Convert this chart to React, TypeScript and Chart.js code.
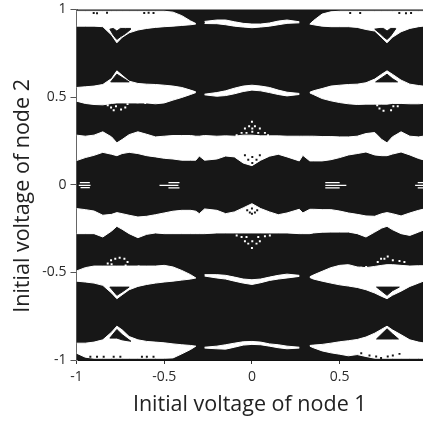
import React, { useEffect, useRef } from "react";
import { Chart, registerables } from "chart.js";

Chart.register(...registerables);

const xTickValues = [-1, -0.5, 0, 0.5];
const yTickValues = [-1, -0.5, 0, 0.5, 1];
const xTitle = "Initial voltage of node 1";
const yTitle = "Initial voltage of node 2    ";

const xLeft = [-1, -0.95, -0.9, -0.85, -0.8, -0.77, -0.74, -0.7, -0.65, -0.6, -0.55, -0.5, -0.45, -0.4, -0.35, -0.32];
const xMid = [-0.27, -0.2, -0.15, -0.1, -0.05, 0, 0.05, 0.1, 0.15, 0.2, 0.27];
const xRight = [0.33, 0.35, 0.4, 0.45, 0.5, 0.55, 0.6, 0.65, 0.7, 0.74, 0.77, 0.8, 0.85, 0.9, 0.95, 0.975];
const xFull = [...xLeft, -0.3, ...xMid, 0.29, ...xRight];

const aLeftTop = [0.99, 0.99, 0.99, 0.99, 0.99, 0.99, 0.99, 0.99, 0.99, 0.99, 0.99, 0.99, 0.985, 0.965, 0.935, 0.92];
const aLeftBot = [0.905, 0.905, 0.905, 0.902, 0.854, 0.81, 0.841, 0.867, 0.883, 0.892, 0.898, 0.902, 0.905, 0.909, 0.913, 0.917];
const aMidTop = [0.932, 0.94, 0.94, 0.93, 0.921, 0.917, 0.917, 0.923, 0.934, 0.94, 0.93];
const aMidBot = [0.92, 0.919, 0.913, 0.905, 0.9, 0.896, 0.9, 0.905, 0.913, 0.921, 0.924];
const aRightTop = [0.917, 0.936, 0.974, 0.987, 0.99, 0.99, 0.99, 0.99, 0.99, 0.99, 0.99, 0.99, 0.99, 0.99, 0.99, 0.99];
const aRightBot = [0.917, 0.913, 0.905, 0.902, 0.902, 0.902, 0.898, 0.886, 0.877, 0.839, 0.81, 0.841, 0.873, 0.892, 0.902, 0.905];

const bLeftTop = [0.555, 0.559, 0.563, 0.572, 0.606, 0.65, 0.625, 0.591, 0.578, 0.574, 0.572, 0.568, 0.563, 0.555, 0.54, 0.53];
const bLeftBot = [0.477, 0.464, 0.458, 0.456, 0.464, 0.467, 0.467, 0.467, 0.467, 0.467, 0.462, 0.467, 0.483, 0.498, 0.515, 0.526];
const bMidTop = [0.517, 0.526, 0.536, 0.551, 0.563, 0.568, 0.563, 0.555, 0.54, 0.528, 0.521];
const bMidBot = [0.513, 0.505, 0.509, 0.519, 0.532, 0.54, 0.536, 0.526, 0.515, 0.507, 0.515];
const bRightTop = [0.528, 0.536, 0.549, 0.563, 0.568, 0.572, 0.574, 0.582, 0.603, 0.631, 0.65, 0.631, 0.597, 0.574, 0.566, 0.563];
const bRightBot = [0.524, 0.515, 0.492, 0.479, 0.469, 0.462, 0.458, 0.46, 0.46, 0.46, 0.46, 0.464, 0.464, 0.462, 0.462, 0.464];

const cTop = [0.283, 0.277, 0.283, 0.302, 0.273, 0.239, 0.258, 0.286, 0.302, 0.288, 0.273, 0.277, 0.281, 0.281, 0.281, 0.277, 0.277, 0.281, 0.277, 0.279, 0.277, 0.283, 0.283, 0.279, 0.279, 0.279, 0.277, 0.277, 0.277, 0.277, 0.277, 0.275, 0.275, 0.273, 0.273, 0.277, 0.292, 0.298, 0.258, 0.239, 0.273, 0.302, 0.277, 0.273, 0.277];
const cBot = [0.138, 0.155, 0.168, 0.185, 0.174, 0.166, 0.178, 0.185, 0.178, 0.166, 0.159, 0.151, 0.147, 0.14, 0.14, 0.14, 0.164, 0.14, 0.147, 0.164, 0.159, 0.124, 0.109, 0.14, 0.163, 0.174, 0.159, 0.136, 0.168, 0.136, 0.136, 0.136, 0.143, 0.155, 0.17, 0.178, 0.187, 0.17, 0.166, 0.166, 0.175, 0.187, 0.17, 0.15, 0.143];

const dTop = [-0.136, -0.142, -0.15, -0.174, -0.169, -0.159, -0.165, -0.174, -0.184, -0.18, -0.171, -0.161, -0.151, -0.146, -0.146, -0.151, -0.165, -0.138, -0.146, -0.165, -0.155, -0.132, -0.108, -0.136, -0.155, -0.171, -0.161, -0.14, -0.161, -0.14, -0.14, -0.142, -0.142, -0.15, -0.161, -0.169, -0.178, -0.18, -0.165, -0.159, -0.165, -0.178, -0.161, -0.146, -0.14];
const dBot = [-0.279, -0.279, -0.279, -0.298, -0.264, -0.237, -0.254, -0.279, -0.302, -0.283, -0.275, -0.279, -0.279, -0.279, -0.279, -0.279, -0.279, -0.279, -0.275, -0.275, -0.275, -0.275, -0.275, -0.275, -0.275, -0.275, -0.275, -0.279, -0.279, -0.279, -0.275, -0.271, -0.27, -0.27, -0.27, -0.279, -0.298, -0.27, -0.247, -0.237, -0.256, -0.279, -0.289, -0.27, -0.26];

const eLeftTop = [-0.492, -0.473, -0.464, -0.464, -0.464, -0.464, -0.464, -0.464, -0.464, -0.464, -0.464, -0.46, -0.469, -0.489, -0.513, -0.532];
const eLeftBot = [-0.55, -0.555, -0.561, -0.574, -0.618, -0.65, -0.628, -0.599, -0.58, -0.569, -0.561, -0.555, -0.55, -0.544, -0.538, -0.532];
const eMidTop = [-0.513, -0.513, -0.517, -0.527, -0.538, -0.542, -0.538, -0.527, -0.517, -0.51, -0.517];
const eMidBot = [-0.521, -0.532, -0.538, -0.55, -0.561, -0.569, -0.559, -0.546, -0.538, -0.532, -0.523];
const eRightTop = [-0.525, -0.515, -0.494, -0.473, -0.46, -0.456, -0.469, -0.473, -0.466, -0.46, -0.456, -0.456, -0.46, -0.464, -0.462, -0.462];
const eRightBot = [-0.529, -0.538, -0.55, -0.561, -0.571, -0.578, -0.586, -0.599, -0.618, -0.637, -0.65, -0.631, -0.607, -0.58, -0.561, -0.551];

const fLeftTop = [-0.904, -0.904, -0.898, -0.885, -0.841, -0.807, -0.828, -0.866, -0.885, -0.894, -0.898, -0.902, -0.908, -0.913, -0.917, -0.921];
const fLeftBot = [-0.961, -0.984, -0.99, -0.99, -0.99, -0.99, -0.99, -0.99, -0.99, -0.99, -0.99, -0.99, -0.988, -0.965, -0.94, -0.921];
const fMidTop = [-0.927, -0.921, -0.913, -0.904, -0.896, -0.894, -0.898, -0.908, -0.913, -0.921, -0.927];
const fMidBot = [-0.932, -0.936, -0.938, -0.927, -0.915, -0.911, -0.913, -0.921, -0.93, -0.936, -0.932];
const fRightTop = [-0.917, -0.915, -0.911, -0.904, -0.896, -0.89, -0.883, -0.869, -0.847, -0.824, -0.807, -0.828, -0.856, -0.885, -0.898, -0.902];
const fRightBot = [-0.921, -0.93, -0.948, -0.959, -0.967, -0.976, -0.969, -0.98, -0.99, -0.99, -0.99, -0.99, -0.99, -0.99, -0.99, -0.99];

// Black notches inside the white bands
const heartLeftX = [-0.81, -0.79, -0.77, -0.75, -0.72, -0.69];
const heartLeftTop = [0.888, 0.892, 0.877, 0.892, 0.892, 0.892];
const heartLeftBot = [0.888, 0.854, 0.829, 0.844, 0.863, 0.888];
const heartRightX = [0.7, 0.73, 0.75, 0.77, 0.79, 0.82];
const heartRightTop = [0.888, 0.892, 0.892, 0.877, 0.892, 0.892];
const heartRightBot = [0.888, 0.863, 0.844, 0.829, 0.848, 0.89];
const triBLeftX = [-0.805, -0.77, -0.74, -0.7];
const triBLeftTop = [0.587, 0.631, 0.612, 0.587];
const triBLeftBot = [0.587, 0.587, 0.587, 0.587];
const triBRightX = [0.705, 0.77, 0.8, 0.83];
const triBRightTop = [0.587, 0.631, 0.606, 0.587];
const triBRightBot = [0.587, 0.587, 0.587, 0.587];
const trapLeftX = [-0.81, -0.77, -0.74, -0.7];
const trapLeftTop = [-0.584, -0.584, -0.584, -0.584];
const trapLeftBot = [-0.584, -0.631, -0.612, -0.584];
const trapRightX = [0.71, 0.77, 0.8, 0.84];
const trapRightTop = [-0.584, -0.584, -0.584, -0.584];
const trapRightBot = [-0.584, -0.631, -0.605, -0.584];
const triFLeftX = [-0.81, -0.77, -0.74, -0.69];
const triFLeftTop = [-0.875, -0.826, -0.855, -0.893];
const triFLeftBot = [-0.875, -0.875, -0.885, -0.893];
const triFRightX = [0.71, 0.77, 0.8, 0.835];
const triFRightTop = [-0.88, -0.822, -0.85, -0.88];
const triFRightBot = [-0.88, -0.88, -0.88, -0.88];

// White speckles in the black field
const whiteDotX = [-0.822, -0.803, -0.788, -0.775, -0.746, -0.722, -0.709, -0.652, -0.627, -0.608, 0.617, 0.636, 0.655, 0.714, 0.727, 0.75, 0.793, 0.806, 0.831, 0, -0.016, 0.017, -0.04, 0.045, 0.002, -0.059, -0.031, 0.036, 0.074, -0.087, 0.092, 0.002, 0, -0.021, 0.026, -0.04, 0.002, 0.045, -0.087, -0.059, -0.031, 0.036, 0.074, 0.102, -0.822, -0.803, -0.779, -0.754, -0.727, -0.709, -0.72, -0.646, -0.627, -0.608, -0.8, 0.623, 0.651, 0.717, 0.736, 0.774, 0.803, 0.841, 0.869, 0.755];
const whiteDotY = [0.454, 0.441, 0.425, 0.448, 0.429, 0.441, 0.46, 0.471, 0.477, 0.467, 0.477, 0.473, 0.467, 0.454, 0.435, 0.422, 0.425, 0.448, 0.448, 0.359, 0.334, 0.334, 0.321, 0.321, 0.321, 0.296, 0.296, 0.296, 0.296, 0.283, 0.283, 0.302, -0.361, -0.336, -0.336, -0.323, -0.323, -0.323, -0.289, -0.298, -0.298, -0.298, -0.294, -0.289, -0.45, -0.431, -0.422, -0.416, -0.422, -0.441, -0.46, -0.466, -0.473, -0.469, -0.454, -0.473, -0.469, -0.441, -0.422, -0.409, -0.431, -0.435, -0.441, -0.422];

// Black speckles in the white bands
const blackDotX = [-0.902, -0.883, -0.826, -0.614, -0.589, -0.561, 0.56, 0.617, 0.84, 0.878, 0.907, -0.921, -0.883, -0.845, -0.788, -0.75, -0.627, -0.599, -0.561, 0.623, 0.67, 0.708, 0.736, 0.774, 0.803, 0.841, -0.027, -0.012, 0, 0.017, 0.03, 0, -0.04, -0.021, 0.002, 0.026, 0.045, 0.002];
const blackDotY = [0.98, 0.978, 0.982, 0.98, 0.982, 0.98, 0.98, 0.98, 0.98, 0.978, 0.98, -0.982, -0.982, -0.982, -0.982, -0.982, -0.982, -0.982, -0.982, -0.961, -0.974, -0.98, -0.988, -0.98, -0.974, -0.965, -0.146, -0.159, -0.136, -0.159, -0.146, -0.165, 0.168, 0.143, 0.124, 0.143, 0.168, 0.159];

// Short white dashes along the y = 0 line
const dashStart = [-0.981, -0.987, -0.977, -0.476, -0.527, -0.476, 0.418, 0.418, 0.418, 0.945, 0.93, 0.945];
const dashEnd = [-0.924, -0.92, -0.924, -0.413, -0.419, -0.413, 0.5, 0.538, 0.5, 0.975, 0.975, 0.975];
const dashY = [0.012, -0.003, -0.016, 0.012, -0.003, -0.018, 0.012, -0.003, -0.018, 0.012, -0.003, -0.018];

const FIELD = "#171717";
const INK = "#2b2b2b";

const zip = (xs: number[], ys: number[]) => xs.map((x, i) => ({ x, y: ys[i] }));

function region(xs: number[], top: number[], bot: number[], color: string, order: number) {
  const common = { showLine: true, pointRadius: 0, tension: 0, order, borderColor: color, borderWidth: 1 };
  return [
    { ...common, data: zip(xs, top), fill: "+1", backgroundColor: color },
    { ...common, data: zip(xs, bot), fill: false },
  ];
}

const fieldBackground = {
  id: "fieldBackground",
  beforeDatasetsDraw(chart: any) {
    const { ctx, chartArea: a } = chart;
    ctx.save();
    ctx.fillStyle = FIELD;
    ctx.fillRect(a.left, a.top, a.right - a.left, a.bottom - a.top);
    ctx.restore();
  },
};

export default function App() {
  const ref = useRef<HTMLCanvasElement>(null);
  useEffect(() => {
    const datasets: any[] = [
      ...region(xLeft, aLeftTop, aLeftBot, "#ffffff", 3),
      ...region(xMid, aMidTop, aMidBot, "#ffffff", 3),
      ...region(xRight, aRightTop, aRightBot, "#ffffff", 3),
      ...region(xLeft, bLeftTop, bLeftBot, "#ffffff", 3),
      ...region(xMid, bMidTop, bMidBot, "#ffffff", 3),
      ...region(xRight, bRightTop, bRightBot, "#ffffff", 3),
      ...region(xFull, cTop, cBot, "#ffffff", 3),
      ...region(xFull, dTop, dBot, "#ffffff", 3),
      ...region(xLeft, eLeftTop, eLeftBot, "#ffffff", 3),
      ...region(xMid, eMidTop, eMidBot, "#ffffff", 3),
      ...region(xRight, eRightTop, eRightBot, "#ffffff", 3),
      ...region(xLeft, fLeftTop, fLeftBot, "#ffffff", 3),
      ...region(xMid, fMidTop, fMidBot, "#ffffff", 3),
      ...region(xRight, fRightTop, fRightBot, "#ffffff", 3),
      ...region(heartLeftX, heartLeftTop, heartLeftBot, FIELD, 2),
      ...region(heartRightX, heartRightTop, heartRightBot, FIELD, 2),
      ...region(triBLeftX, triBLeftTop, triBLeftBot, FIELD, 2),
      ...region(triBRightX, triBRightTop, triBRightBot, FIELD, 2),
      ...region(trapLeftX, trapLeftTop, trapLeftBot, FIELD, 2),
      ...region(trapRightX, trapRightTop, trapRightBot, FIELD, 2),
      ...region(triFLeftX, triFLeftTop, triFLeftBot, FIELD, 2),
      ...region(triFRightX, triFRightTop, triFRightBot, FIELD, 2),
      {
        data: zip(whiteDotX, whiteDotY),
        pointStyle: "rect",
        pointRadius: 1.4,
        pointBorderWidth: 0,
        pointBackgroundColor: "#ffffff",
        showLine: false,
        order: 1,
      },
      {
        data: zip(blackDotX, blackDotY),
        pointStyle: "rect",
        pointRadius: 1.4,
        pointBorderWidth: 0,
        pointBackgroundColor: FIELD,
        showLine: false,
        order: 1,
      },
      ...dashY.map((y, i) => ({
        data: [
          { x: dashStart[i], y },
          { x: dashEnd[i], y },
        ],
        showLine: true,
        pointRadius: 0,
        borderColor: "#ffffff",
        borderWidth: 1.2,
        order: 1,
      })),
    ];

    const tickFont = { family: "'Open Sans'", size: 14 };
    const titleFont = { family: "'Open Sans'", size: 21.5 };
    const plainLabel = (v: any) => String(v);
    const noMargins = (s: any) => {
      s.paddingLeft = 0;
      s.paddingRight = 0;
      s.paddingTop = 0;
      s.paddingBottom = 0;
    };

    const chart = new Chart(ref.current as HTMLCanvasElement, {
      type: "scatter",
      data: { datasets },
      plugins: [fieldBackground],
      options: {
        responsive: false,
        animation: false,
        layout: { autoPadding: false, padding: { top: 9.5, right: 0, left: 0, bottom: 0 } },
        plugins: { legend: { display: false }, tooltip: { enabled: false } },
        scales: {
          x: {
            type: "linear",
            min: -1,
            max: 0.975,
            afterBuildTicks: (s: any) => {
              s.ticks = xTickValues.map((value) => ({ value }));
            },
            afterFit: (s: any) => {
              s.height = 61;
              noMargins(s);
            },
            grid: { drawOnChartArea: false, drawTicks: true, tickLength: 4, color: "#333333" },
            border: { color: "#111111", width: 1 },
            ticks: { color: INK, font: tickFont, padding: 5, maxRotation: 0, autoSkip: false, callback: plainLabel },
            title: {
              display: true,
              text: xTitle,
              color: "#222222",
              font: titleFont,
              padding: { top: 0, bottom: 3 },
            },
          },
          y: {
            type: "linear",
            min: -1,
            max: 1,
            afterBuildTicks: (s: any) => {
              s.ticks = yTickValues.map((value) => ({ value }));
            },
            afterFit: (s: any) => {
              s.width = 76.5;
              noMargins(s);
            },
            grid: { drawOnChartArea: false, drawTicks: true, tickLength: 6, color: "#555555" },
            border: { color: "#8a8a8a", width: 2 },
            ticks: { color: INK, font: tickFont, padding: 4, autoSkip: false, callback: plainLabel },
            title: {
              display: true,
              text: yTitle,
              color: "#222222",
              font: titleFont,
              padding: { top: 10, bottom: 0 },
            },
          },
        },
      },
    } as any);
    return () => chart.destroy();
  }, []);

  return (
    <div style={{ position: "absolute", left: 0, top: 0, width: 423, height: 421 }}>
      <canvas ref={ref} width={423} height={421} style={{ display: "block" }} />
    </div>
  );
}
